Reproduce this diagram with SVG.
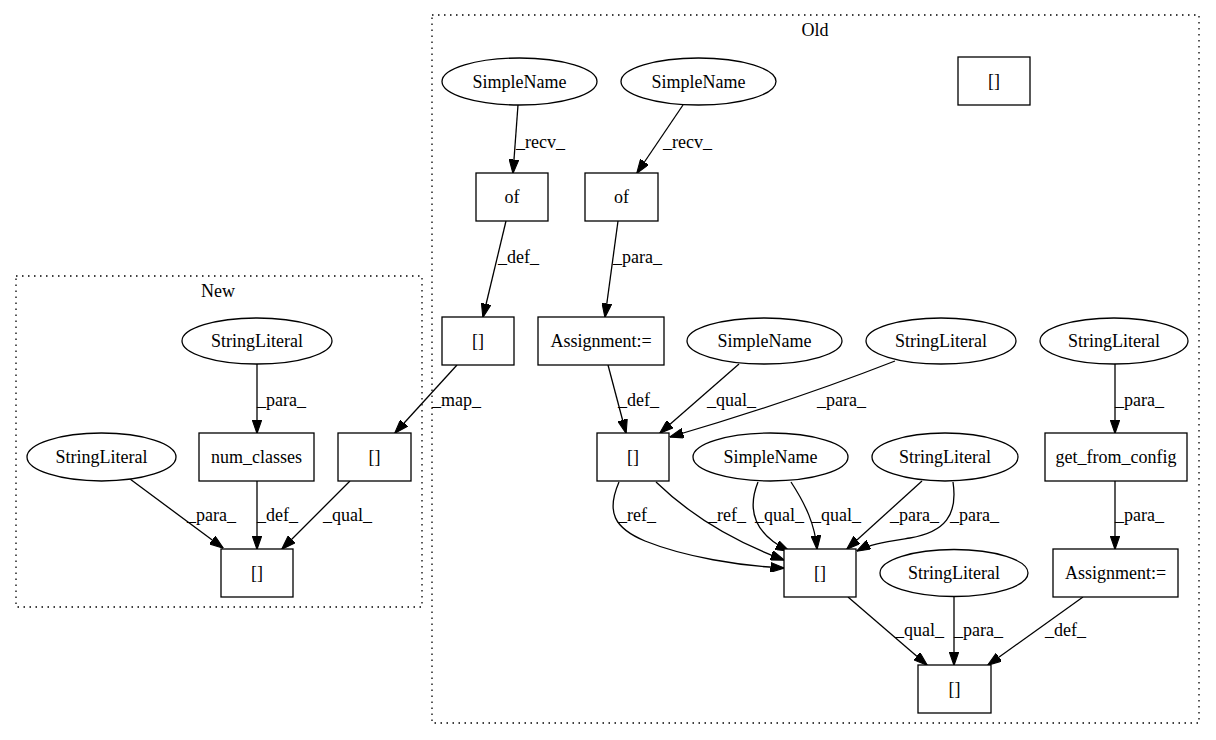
<svg xmlns="http://www.w3.org/2000/svg" width="1216" height="740" viewBox="0 0 1216 740">
<style>
text{font-family:"Liberation Serif","Times New Roman",serif;font-size:18px;fill:#000}
.c{text-anchor:middle}
.n{fill:#fff;stroke:#000;stroke-width:1.3}
.cl{fill:none;stroke:#000;stroke-width:1.3;stroke-dasharray:1.5,4.5}
.e{fill:none;stroke:#000;stroke-width:1.3;marker-end:url(#ah)}
</style>
<defs>
<marker id="ah" markerUnits="userSpaceOnUse" markerWidth="14" markerHeight="10" viewBox="0 0 13 9" refX="12.5" refY="4.5" orient="auto">
<path d="M0,0 L13,4.5 L0,9 z" fill="#000" stroke="#000" stroke-width="1"/>
</marker>
</defs>
<rect width="1216" height="740" fill="#fff"/>
<g id="cluster_old">
<rect class="cl" x="432" y="15" width="767" height="708"/>
<text class="c" x="815" y="36">Old</text>
</g>
<g id="cluster_new">
<rect class="cl" x="16" y="276" width="406" height="331"/>
<text class="c" x="218" y="297">New</text>
</g>
<g id="connectors">
<path class="e" d="M518,105 L513,173"/><text x="516" y="148">_recv_</text>
<path class="e" d="M683,105 L637,173"/><text x="663" y="148">_recv_</text>
<path class="e" d="M506,221 L483,317"/><text x="498" y="263">_def_</text>
<path class="e" d="M618,221 L605,317"/><text x="613" y="263">_para_</text>
<path class="e" d="M457,365 L395,433"/><text x="432" y="406">_map_</text>
<path class="e" d="M608,365 L626,433"/><text x="618" y="406">_def_</text>
<path class="e" d="M739,364 L660,433"/><text x="707" y="406">_qual_</text>
<path class="e" d="M895,361 Q790,402 670,437"/><text x="817" y="406">_para_</text>
<path class="e" d="M1115,364 L1115,433"/><text x="1115" y="406">_para_</text>
<path class="e" d="M619,482 C606,512 614,528 645,541 C685,557 740,566 784,568"/><text x="618" y="521">_ref_</text>
<path class="e" d="M656,482 C690,515 730,540 784,560"/><text x="708" y="521">_ref_</text>
<path class="e" d="M758,482 C746,512 756,535 789,551"/><text x="755" y="521">_qual_</text>
<path class="e" d="M791,482 C806,505 815,525 817,549"/><text x="812" y="521">_qual_</text>
<path class="e" d="M922,481 L847,549"/><text x="890" y="521">_para_</text>
<path class="e" d="M953,482 C958,515 945,532 910,538 C885,542 870,544 857,551"/><text x="950" y="521">_para_</text>
<path class="e" d="M1115,481 L1115,549"/><text x="1115" y="521">_para_</text>
<path class="e" d="M848,597 L927,665"/><text x="895" y="636">_qual_</text>
<path class="e" d="M954,596 L954,665"/><text x="954" y="636">_para_</text>
<path class="e" d="M1083,597 L988,665"/><text x="1045" y="636">_def_</text>
<path class="e" d="M257,364 L257,433"/><text x="257" y="406">_para_</text>
<path class="e" d="M257,481 L257,549"/><text x="257" y="521">_def_</text>
<path class="e" d="M130,479 L223,548"/><text x="187" y="521">_para_</text>
<path class="e" d="M350,481 L282,549"/><text x="323" y="521">_qual_</text>
</g>
<g id="n_sn1"><ellipse class="n" cx="519.5" cy="81.5" rx="77.5" ry="23.5"/><text class="c" x="519.5" y="87.5">SimpleName</text></g>
<g id="n_sn2"><ellipse class="n" cx="698.5" cy="81.5" rx="77.5" ry="23.5"/><text class="c" x="698.5" y="87.5">SimpleName</text></g>
<g id="n_br_top"><rect class="n" x="958" y="57" width="72" height="48"/><text class="c" x="994" y="87">[]</text></g>
<g id="n_of1"><rect class="n" x="476" y="173" width="72" height="48"/><text class="c" x="512" y="203">of</text></g>
<g id="n_of2"><rect class="n" x="585" y="173" width="73" height="48"/><text class="c" x="621.5" y="203">of</text></g>
<g id="n_br1"><rect class="n" x="442" y="317" width="72" height="48"/><text class="c" x="478" y="347">[]</text></g>
<g id="n_asg1"><rect class="n" x="538" y="317" width="126" height="48"/><text class="c" x="601" y="347">Assignment:=</text></g>
<g id="n_sn3"><ellipse class="n" cx="764.5" cy="341" rx="77.5" ry="23"/><text class="c" x="764.5" y="347">SimpleName</text></g>
<g id="n_sl1"><ellipse class="n" cx="941" cy="341" rx="75" ry="23"/><text class="c" x="941" y="347">StringLiteral</text></g>
<g id="n_sl2"><ellipse class="n" cx="1114" cy="341" rx="74" ry="23"/><text class="c" x="1114" y="347">StringLiteral</text></g>
<g id="n_br2"><rect class="n" x="597" y="433" width="72" height="48"/><text class="c" x="633" y="463">[]</text></g>
<g id="n_sn4"><ellipse class="n" cx="770.5" cy="457" rx="77.5" ry="24"/><text class="c" x="770.5" y="463">SimpleName</text></g>
<g id="n_sl3"><ellipse class="n" cx="945" cy="457" rx="73" ry="24"/><text class="c" x="945" y="463">StringLiteral</text></g>
<g id="n_gfc"><rect class="n" x="1045" y="433" width="142" height="48"/><text class="c" x="1116" y="463">get_from_config</text></g>
<g id="n_br3"><rect class="n" x="784" y="549" width="72" height="48"/><text class="c" x="820" y="579">[]</text></g>
<g id="n_sl4"><ellipse class="n" cx="954" cy="573" rx="74" ry="23.5"/><text class="c" x="954" y="579">StringLiteral</text></g>
<g id="n_asg2"><rect class="n" x="1053" y="549" width="125" height="48"/><text class="c" x="1115.5" y="579">Assignment:=</text></g>
<g id="n_br4"><rect class="n" x="918" y="665" width="73" height="48"/><text class="c" x="954.5" y="695">[]</text></g>
<g id="n_nsl1"><ellipse class="n" cx="257" cy="341" rx="75" ry="23"/><text class="c" x="257" y="347">StringLiteral</text></g>
<g id="n_nsl2"><ellipse class="n" cx="101.5" cy="457" rx="74.5" ry="24"/><text class="c" x="101.5" y="463">StringLiteral</text></g>
<g id="n_nc"><rect class="n" x="199" y="433" width="115" height="48"/><text class="c" x="256.5" y="463">num_classes</text></g>
<g id="n_nbr1"><rect class="n" x="338" y="433" width="73" height="48"/><text class="c" x="374.5" y="463">[]</text></g>
<g id="n_nbr2"><rect class="n" x="221" y="549" width="72" height="48"/><text class="c" x="257" y="579">[]</text></g>
</svg>
